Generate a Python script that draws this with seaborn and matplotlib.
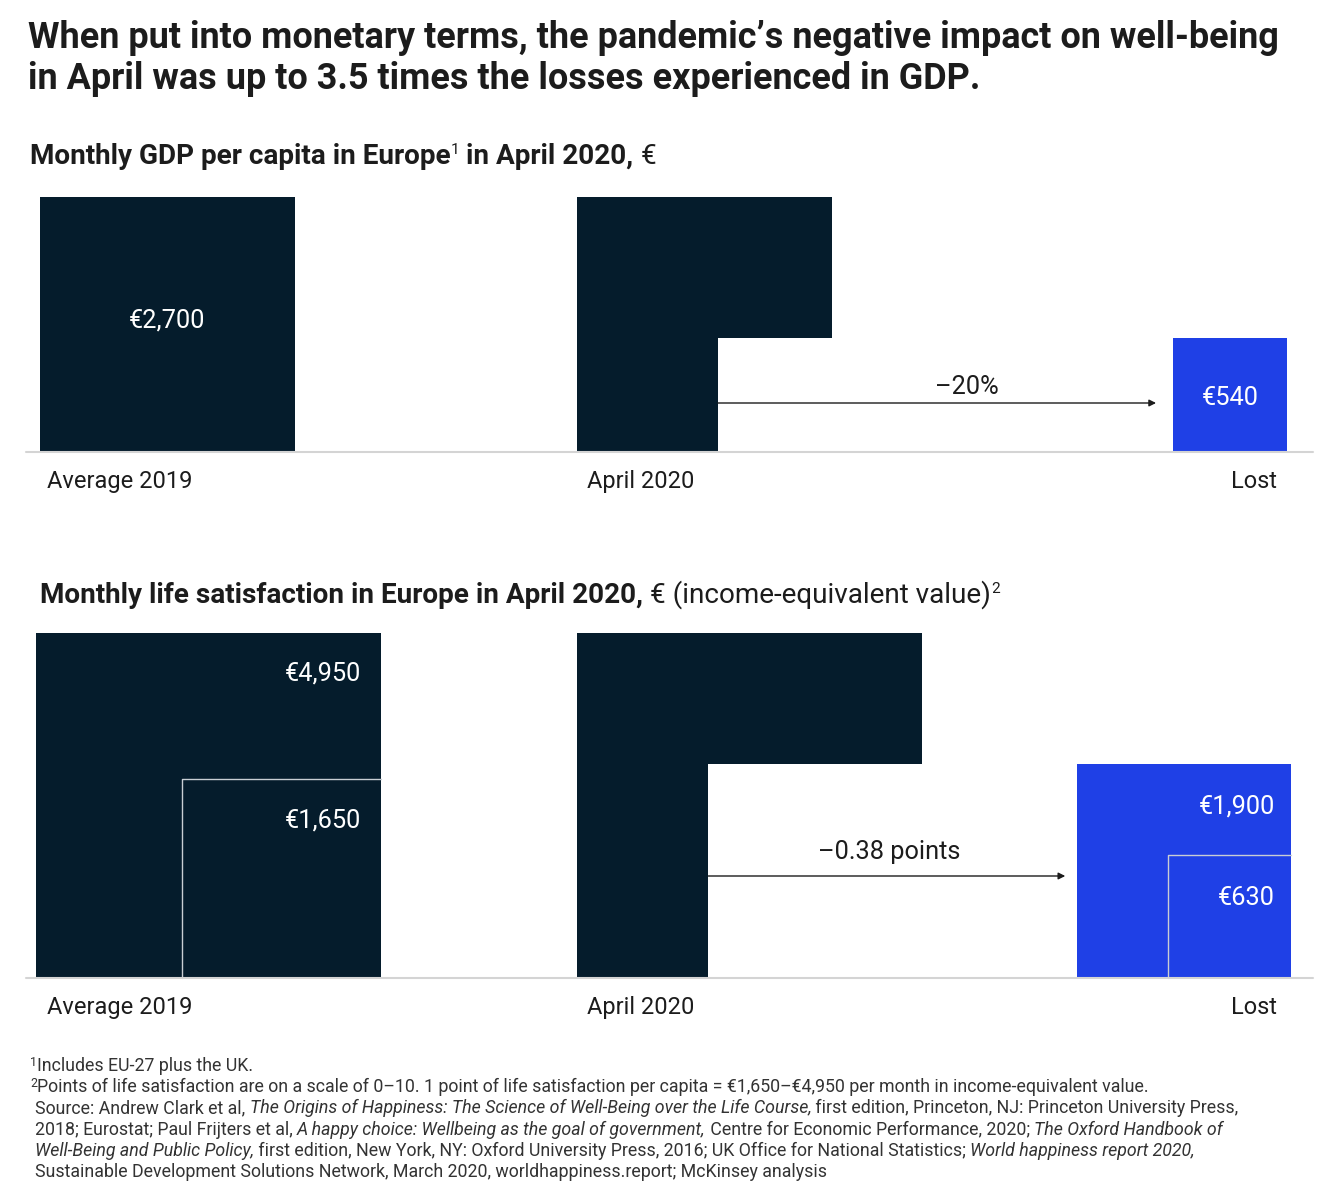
import numpy as np
import matplotlib
matplotlib.use("Agg")
import matplotlib.pyplot as plt
import seaborn as sns

# monthly values, euro per capita
gdp_avg_2019 = 2700
gdp_lost = 540
ls_avg_2019 = [4950, 1650]   # upper / lower income-equivalent value
ls_lost = [1900, 630]
category_labels = ["Average 2019", "April 2020", "Lost"]
gdp_change = "\u201320%"
ls_change = "\u20130.38 points"

title_lines = ["When put into monetary terms, the pandemic\u2019s negative impact on well-being",
               "in April was up to 3.5 times the losses experienced in GDP."]

NAVY = "#051c2c"
BLUE = "#1f40e6"
INK = "#1c1c1c"
GREY_TXT = "#333333"

sns.set_style("white")
plt.rcParams['font.family'] = ['Roboto', 'DejaVu Sans']

W, H = 1330, 1194
fig = plt.figure(figsize=(W / 100, H / 100), dpi=100)
ax = fig.add_axes([0, 0, 1, 1])
ax.set_xlim(0, W)
ax.set_ylim(H, 0)
ax.axis('off')
renderer = fig.canvas.get_renderer()

K = 345 / np.sqrt(4950)   # pixels per sqrt(euro), area ~ value


def side(v):
    return np.sqrt(v) * K


def square(x_left, base, v, color):
    s = side(v)
    ax.bar(x_left, s, width=s, bottom=base - s, align='edge', color=color, linewidth=0, zorder=2)


def outline(x_left, base, v):
    s = side(v)
    ax.plot([x_left, x_left, x_left + s], [base, base - s, base - s], color="#c9ced4", lw=1, zorder=3)


def text_w(s, **kw):
    t = ax.text(0, 0, s + "|", **kw)
    t2 = ax.text(0, 0, "|", **kw)
    w = t.get_window_extent(renderer).width - t2.get_window_extent(renderer).width
    t.remove()
    t2.remove()
    return w


def fit(s, target, **kw):
    return 10 * target / text_w(s, fontsize=10, **kw)


def run_text(x, y, pieces, size, color=INK):
    for s, kw in pieces:
        kw = dict(kw)
        rel = kw.pop('rel', 1.0)
        dy = kw.pop('dy', 0)
        ax.text(x, y + dy, s, fontsize=size * rel, color=color, va='baseline', ha='left', **kw)
        x += text_w(s, fontsize=size * rel, **kw)


# title
ts = fit(title_lines[0], 1255, fontweight='bold')
ax.text(28, 48, title_lines[0], fontsize=ts, fontweight='bold', color=INK, va='baseline')
ax.text(28, 89, title_lines[1], fontsize=ts, fontweight='bold', color=INK, va='baseline')

B = dict(fontweight='bold')
N = dict(fontweight='normal')
sub_size = fit("Monthly GDP per capita in Europe in April 2020, ", 604, **B)
run_text(30, 164, [("Monthly GDP per capita in Europe", B), ("1", dict(fontweight='normal', rel=0.55, dy=-10)),
                   (" in April 2020, ", B), ("\u20ac", N)], sub_size)
run_text(40, 603, [("Monthly life satisfaction in Europe in April 2020, ", B),
                   ("\u20ac (income-equivalent value)", N),
                   ("2", dict(fontweight='normal', rel=0.55, dy=-10))], sub_size)

lab_size = fit("Average 2019", 145)
val_size = fit("\u20ac2,700", 76)

# ---- GDP panel
base1 = 452
ax.plot([26, 1313], [base1, base1], color="#d4d4d4", lw=1.5, zorder=4)
square(40, base1, gdp_avg_2019, NAVY)
ax.text(40 + side(gdp_avg_2019) / 2, base1 - side(gdp_avg_2019) / 2 - 4, f"\u20ac{gdp_avg_2019:,}",
        color="white", fontsize=val_size, ha='center', va='center', zorder=5)
apr_left = 577
square(apr_left, base1, gdp_avg_2019, NAVY)
notch_l = apr_left + side(gdp_avg_2019) - side(gdp_lost)
square(notch_l, base1, gdp_lost, "white")
lost_l = 1287 - side(gdp_lost)
square(lost_l, base1, gdp_lost, BLUE)
ax.text(lost_l + side(gdp_lost) / 2, base1 - side(gdp_lost) / 2 + 3, f"\u20ac{gdp_lost:,}",
        color="white", fontsize=val_size, ha='center', va='center', zorder=5)
ay = 403
ax.annotate("", xy=(lost_l - 17, ay), xytext=(notch_l, ay), zorder=5,
            arrowprops=dict(arrowstyle='-|>', color=INK, lw=1, mutation_scale=10, shrinkA=0, shrinkB=0))
ax.text(967, 394, gdp_change, fontsize=val_size, color=INK, ha='center', va='baseline')
for x, lab, ha in zip([47, 587, 1277], category_labels, ['left', 'left', 'right']):
    ax.text(x, 488, lab, fontsize=lab_size, color=INK, ha=ha, va='baseline')

# ---- life satisfaction panel
base2 = 978
ax.plot([26, 1313], [base2, base2], color="#d4d4d4", lw=1.5, zorder=4)
left2019 = 36
square(left2019, base2, ls_avg_2019[0], NAVY)
r2019 = left2019 + side(ls_avg_2019[0])
outline(r2019 - side(ls_avg_2019[1]), base2, ls_avg_2019[1])
ax.text(r2019 - 20, base2 - side(ls_avg_2019[0]) + 40, f"\u20ac{ls_avg_2019[0]:,}", color="white",
        fontsize=val_size, ha='right', va='center', zorder=5)
ax.text(r2019 - 20, base2 - side(ls_avg_2019[1]) + 42, f"\u20ac{ls_avg_2019[1]:,}", color="white",
        fontsize=val_size, ha='right', va='center', zorder=5)
square(apr_left, base2, ls_avg_2019[0], NAVY)
notch2 = apr_left + side(ls_avg_2019[0]) - side(ls_lost[0])
square(notch2, base2, ls_lost[0], "white")
lost_r = 1291
lost2 = lost_r - side(ls_lost[0])
square(lost2, base2, ls_lost[0], BLUE)
outline(lost_r - side(ls_lost[1]), base2, ls_lost[1])
ax.text(lost_r - 16, base2 - side(ls_lost[0]) + 42, f"\u20ac{ls_lost[0]:,}", color="white",
        fontsize=val_size, ha='right', va='center', zorder=5)
ax.text(lost_r - 16, base2 - side(ls_lost[1]) + 43, f"\u20ac{ls_lost[1]:,}", color="white",
        fontsize=val_size, ha='right', va='center', zorder=5)
ay2 = 876
ax.annotate("", xy=(lost2 - 12, ay2), xytext=(notch2, ay2), zorder=5,
            arrowprops=dict(arrowstyle='-|>', color=INK, lw=1, mutation_scale=10, shrinkA=0, shrinkB=0))
ax.text(889, 859, ls_change, fontsize=val_size, color=INK, ha='center', va='baseline')
for x, lab, ha in zip([47, 587, 1277], category_labels, ['left', 'left', 'right']):
    ax.text(x, 1014, lab, fontsize=lab_size, color=INK, ha=ha, va='baseline')

# ---- footnotes
I = dict(fontstyle='italic', fontweight='normal')
L = dict(fontweight='normal')
SUP = dict(fontweight='normal', rel=0.7, dy=-5)
fn2 = "Points of life satisfaction are on a scale of 0\u201310. 1 point of life satisfaction per capita = \u20ac1,650\u2013\u20ac4,950 per month in income-equivalent value."
fs = fit(fn2, 1116, **L)
notes = [
    (30, [("1", SUP), ("Includes EU-27 plus the UK.", L)]),
    (30, [("2", SUP), (fn2, L)]),
    (35, [("Source: Andrew Clark et al, ", L),
          ("The Origins of Happiness: The Science of Well-Being over the Life Course,", I),
          (" first edition, Princeton, NJ: Princeton University Press,", L)]),
    (35, [("2018; Eurostat; Paul Frijters et al, ", L), ("A happy choice: Wellbeing as the goal of government,", I),
          (" Centre for Economic Performance, 2020; ", L), ("The Oxford Handbook of", I)]),
    (35, [("Well-Being and Public Policy,", I),
          (" first edition, New York, NY: Oxford University Press, 2016; UK Office for National Statistics; ", L),
          ("World happiness report 2020,", I)]),
    (35, [("Sustainable Development Solutions Network, March 2020, worldhappiness.report; McKinsey analysis", L)]),
]
for i, (x, pieces) in enumerate(notes):
    run_text(x, 1071 + i * 21.2, pieces, fs, color=GREY_TXT)

fig.savefig("out.png", dpi=100)
